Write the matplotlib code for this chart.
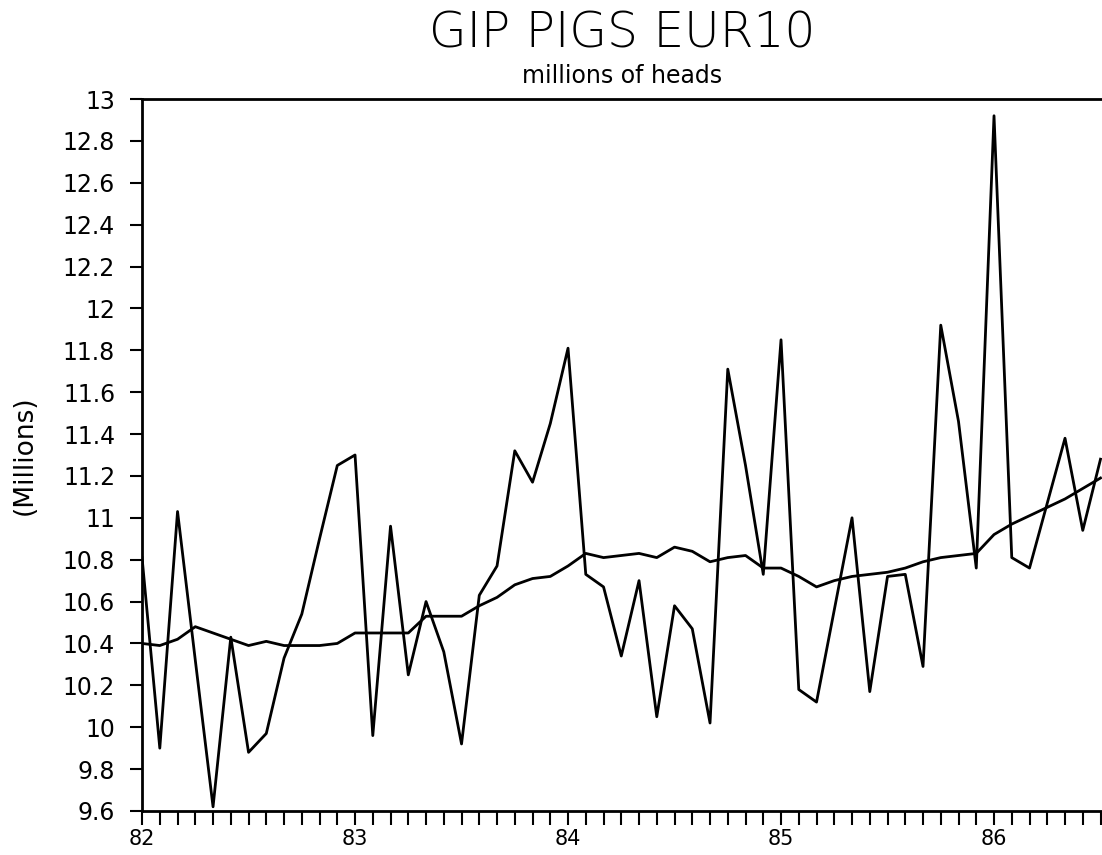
import matplotlib
matplotlib.use("Agg")
import matplotlib.pyplot as plt
from matplotlib.ticker import MultipleLocator, FixedLocator
import numpy as np

# monthly data starting Jan 1982
start_year = 82
monthly = [10.81, 9.90, 11.03, 10.32, 9.62, 10.43, 9.88, 9.97, 10.33, 10.54, 10.90, 11.25,
           11.30, 9.96, 10.96, 10.25, 10.60, 10.36, 9.92, 10.63, 10.77, 11.32, 11.17, 11.45,
           11.81, 10.73, 10.67, 10.34, 10.70, 10.05, 10.58, 10.47, 10.02, 11.71, 11.25, 10.73,
           11.85, 10.18, 10.12, 10.56, 11.00, 10.17, 10.72, 10.73, 10.29, 11.92, 11.46, 10.76,
           12.92, 10.81, 10.76, 11.07, 11.38, 10.94, 11.28]
trend = [10.40, 10.39, 10.42, 10.48, 10.45, 10.42, 10.39, 10.41, 10.39, 10.39, 10.39, 10.40,
         10.45, 10.45, 10.45, 10.45, 10.53, 10.53, 10.53, 10.58, 10.62, 10.68, 10.71, 10.72,
         10.77, 10.83, 10.81, 10.82, 10.83, 10.81, 10.86, 10.84, 10.79, 10.81, 10.82, 10.76,
         10.76, 10.72, 10.67, 10.70, 10.72, 10.73, 10.74, 10.76, 10.79, 10.81, 10.82, 10.83,
         10.92, 10.97, 11.01, 11.05, 11.09, 11.14, 11.19]
year_labels = ["82", "83", "84", "85", "86"]

x = start_year + np.arange(len(monthly)) / 12.0

fig = plt.figure(figsize=(11.02, 8.55), dpi=100)
ax = fig.add_axes([0.1289, 0.0515, 0.8711, 0.8327])

ax.plot(x, monthly, color="black", lw=2)
ax.plot(x, trend, color="black", lw=2)

ax.set_xlim(82, 86.507)
ax.set_ylim(9.6, 13)

ax.yaxis.set_major_locator(MultipleLocator(0.2))
ax.set_yticklabels([("%.1f" % v).rstrip("0").rstrip(".") for v in ax.get_yticks()])
ax.set_xticks([82, 83, 84, 85, 86])
ax.set_xticklabels(year_labels)
ax.xaxis.set_minor_locator(FixedLocator(start_year + np.arange(0, 55) / 12.0))

ax.tick_params(axis="y", direction="out", length=8.6, width=1.5, labelsize=17, pad=10.8)
ax.tick_params(axis="x", which="both", direction="out", length=10, width=1.5,
               labelsize=15, pad=3)

ax.spines["right"].set_visible(False)
for s in ["left", "top", "bottom"]:
    ax.spines[s].set_linewidth(2)

ax.set_ylabel("(Millions)", fontsize=19)
ax.yaxis.set_label_coords(-0.109, 0.5)

fig.text(0.5645, 0.945, "GIP PIGS EUR10", ha="center", va="baseline", fontsize=35,
         fontweight="light")
fig.text(0.5645, 0.903, "millions of heads", ha="center", va="baseline", fontsize=17)

fig.savefig("out.png", dpi=100)
